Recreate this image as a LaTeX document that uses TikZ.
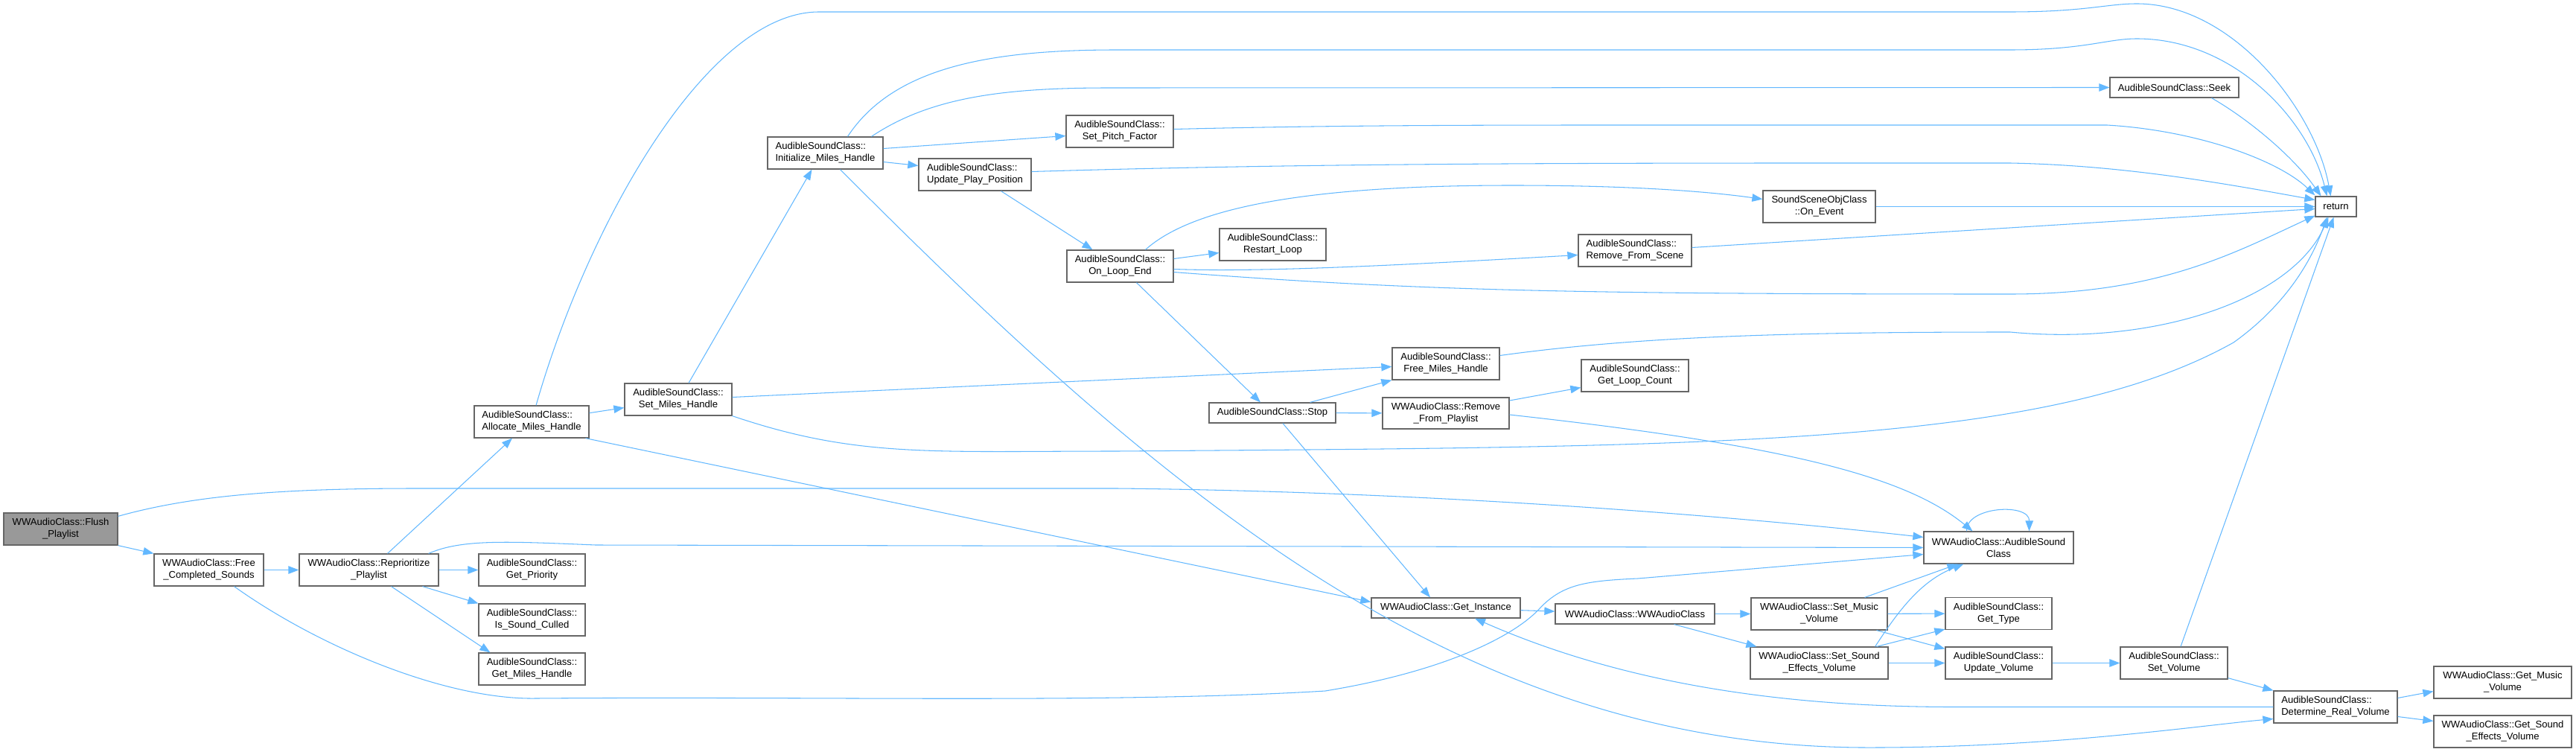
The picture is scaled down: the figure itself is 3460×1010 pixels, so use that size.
\documentclass[tikz,border=0pt]{standalone}
\usepackage{fontspec}
\setmainfont{Liberation Sans}
\usepackage{xcolor}
\usepackage{tikz}
\usetikzlibrary{arrows.meta, calc}

\definecolor{edgeblue}{HTML}{63B8FF}
\definecolor{boxgray}{HTML}{666666}
\definecolor{rootgray}{HTML}{999999}
\newcommand\fnfont{\fontsize{7.45}{9.1}\selectfont}

\begin{document}
\begin{tikzpicture}[x=0.02cm, y=-0.02cm,
    >={Triangle[length=8pt, width=6pt]},
    fn/.style={draw=boxgray, fill=white, line width=0.7pt, align=center,
               inner sep=0pt, minimum height=8.6mm, font=\fnfont},
    fnone/.style={fn, minimum height=5.4mm},
    fnroot/.style={fn, fill=rootgray},
    call/.style={->, draw=edgeblue, line width=0.6pt}]
    \useasboundingbox (0,0) rectangle (3460,1010);
    \node[fnroot, minimum width=3.06cm] (flush) at (81.5,710.5) {WWAudioClass::Flush\\\_Playlist};
    \node[fn, minimum width=2.94cm] (freecs) at (280.5,765.5) {WWAudioClass::Free\\\_Completed\_Sounds};
    \node[fn, minimum width=3.74cm] (reprio) at (495.5,765.5) {WWAudioClass::Reprioritize\\\_Playlist};
    \node[fn, minimum width=2.86cm] (getprio) at (714.5,765.5) {AudibleSoundClass::\\Get\_Priority};
    \node[fn, minimum width=2.86cm] (culled) at (714.5,832.5) {AudibleSoundClass::\\Is\_Sound\_Culled};
    \node[fn, minimum width=2.86cm] (getmh) at (714.5,898.5) {AudibleSoundClass::\\Get\_Miles\_Handle};
    \node[fn, align=left, minimum width=3.08cm] (alloc) at (714,566.5) {AudibleSoundClass::\\Allocate\_Miles\_Handle};
    \node[fn, minimum width=2.88cm] (setmh) at (911,536.5) {AudibleSoundClass::\\Set\_Miles\_Handle};
    \node[fn, align=left, minimum width=3.10cm] (initmh) at (1108.5,205.5) {AudibleSoundClass::\\Initialize\_Miles\_Handle};
    \node[fn, align=left, minimum width=3.02cm] (updpp) at (1309.5,234.5) {AudibleSoundClass::\\Update\_Play\_Position};
    \node[fn, minimum width=2.88cm] (pitch) at (1504,176.5) {AudibleSoundClass::\\Set\_Pitch\_Factor};
    \node[fn, minimum width=2.86cm] (loopend) at (1504.5,357.5) {AudibleSoundClass::\\On\_Loop\_End};
    \node[fn, minimum width=2.86cm] (restart) at (1709.5,328.5) {AudibleSoundClass::\\Restart\_Loop};
    \node[fnone, minimum width=3.40cm] (stop) at (1709,554.5) {AudibleSoundClass::Stop};
    \node[fn, minimum width=2.88cm] (freemh) at (1942,488.5) {AudibleSoundClass::\\Free\_Miles\_Handle};
    \node[fn, minimum width=3.40cm, minimum height=8.4mm] (rmpl) at (1942,555) {WWAudioClass::Remove\\\_From\_Playlist};
    \node[fnone, minimum width=4.00cm] (getinst) at (1942,816.5) {WWAudioClass::Get\_Instance};
    \node[fn, align=left, minimum width=3.04cm] (rmscene) at (2196,336.5) {AudibleSoundClass::\\Remove\_From\_Scene};
    \node[fn, minimum width=2.88cm] (loopcnt) at (2196,504.5) {AudibleSoundClass::\\Get\_Loop\_Count};
    \node[fnone, minimum width=4.28cm] (ctor) at (2196,824.5) {WWAudioClass::WWAudioClass};
    \node[fn, minimum width=3.02cm] (onevent) at (2443.5,277.5) {SoundSceneObjClass\\::On\_Event};
    \node[fn, minimum width=3.66cm] (setmusic) at (2443.5,824.5) {WWAudioClass::Set\_Music\\\_Volume};
    \node[fn, minimum width=3.70cm] (setsfx) at (2443.5,890.5) {WWAudioClass::Set\_Sound\\\_Effects\_Volume};
    \node[fn, minimum width=4.02cm] (asc) at (2684.5,735.5) {WWAudioClass::AudibleSound\\Class};
    \node[fn, minimum width=2.86cm] (gettype) at (2684.5,824) {AudibleSoundClass::\\Get\_Type};
    \node[fn, minimum width=2.86cm] (updvol) at (2684.5,890.5) {AudibleSoundClass::\\Update\_Volume};
    \node[fnone, minimum width=3.46cm] (seek) at (2920.5,117.5) {AudibleSoundClass::Seek};
    \node[fn, minimum width=2.88cm] (setvol) at (2920,890.5) {AudibleSoundClass::\\Set\_Volume};
    \node[fnone, minimum width=1.10cm] (ret) at (3137.5,277.5) {return};
    \node[fn, align=left, minimum width=3.32cm] (detvol) at (3137,949.5) {AudibleSoundClass::\\Determine\_Real\_Volume};
    \node[fn, minimum width=3.70cm] (getmvol) at (3361.5,916.5) {WWAudioClass::Get\_Music\\\_Volume};
    \node[fn, minimum width=3.70cm] (getsvol) at (3361.5,982.5) {WWAudioClass::Get\_Sound\\\_Effects\_Volume};

    \draw[call] (flush.south east) -- (freecs.north west);
    \draw[call] ($(flush.north east)+(0,5)$) .. controls (260,665) and (380,656) .. (560,656)
        -- (1500,656) .. controls (1900,660) and (2300,690) .. ($(asc.west)+(0,-14)$);
    \draw[call] (freecs) -- (reprio);
    \draw[call] ($(freecs.south)+(34,0)$) .. controls (430,870) and (600,940) .. (720,938)
        .. controls (1100,935) and (1500,945) .. (1780,928)
        .. controls (1950,900) and (2040,850) .. (2070,815)
        .. controls (2100,785) and (2130,780) .. (2200,777) -- ($(asc.west)+(0,9)$);
    \draw[call] (reprio) -- (getprio);
    \draw[call] ($(reprio.south east)+(-22,0)$) -- (culled.north west);
    \draw[call] ($(reprio.south)+(30,0)$) -- ($(getmh.north west)+(16,0)$);
    \draw[call] ($(reprio.north)+(25,0)$) -- ($(alloc.south)+(-26,0)$);
    \draw[call] ($(reprio.north east)+(-14,0)$) .. controls (620,724) and (680,727) .. (800,732) -- (asc.west);
    \draw[call] (alloc) -- (setmh);
    \draw[call] ($(alloc.north)+(6,0)$) .. controls (790,300) and (950,16) .. (1100,16)
        -- (2700,16) .. controls (2800,16) and (2830,5) .. (2870,5)
        .. controls (3000,5) and (3110,150) .. ($(ret.north)+(-7,0)$);
    \draw[call] ($(alloc.south east)+(-5,0)$) -- ($(getinst.west)+(0,-8)$);
    \draw[call] ($(setmh.north)+(14,0)$) -- ($(initmh.south)+(-18,0)$);
    \draw[call] ($(setmh.east)+(0,-3)$) -- ($(freemh.west)+(0,4)$);
    \draw[call] (setmh.south east) .. controls (1150,615) and (1250,606) .. (1500,606)
        .. controls (2300,600) and (2750,600) .. (3000,460)
        .. controls (3070,410) and (3105,350) .. ($(ret.south)+(-12,0)$);
    \draw[call] ($(initmh.east)+(0,-6)$) -- ($(pitch.west)+(0,6)$);
    \draw[call] ($(initmh.east)+(0,12)$) -- ($(updpp.west)+(0,-12)$);
    \draw[call] ($(initmh.north)+(30,0)$) .. controls (1200,90) and (1330,67) .. (1500,67)
        -- (2700,67) .. controls (2800,67) and (2830,52) .. (2870,52)
        .. controls (3000,52) and (3100,160) .. ($(ret.north)+(-12,0)$);
    \draw[call] ($(initmh.north)+(62,0)$) .. controls (1250,130) and (1350,118) .. (1490,118) -- (seek.west);
    \draw[call] ($(initmh.south)+(20,0)$) .. controls (1550,650) and (1950,1000) .. (2500,1004)
        .. controls (2750,1005) and (2950,975) .. ($(detvol.west)+(0,16)$);
    \draw[call] ($(updpp.east)+(0,-4)$) .. controls (1800,218) and (2200,219) .. (2700,219)
        .. controls (2850,222) and (2980,245) .. ($(ret.west)+(0,-9)$);
    \draw[call] ($(updpp.south)+(35,0)$) -- ($(loopend.north)+(-37,0)$);
    \draw[call] ($(pitch.east)+(0,-3)$) .. controls (1800,168) and (2000,168) .. (2200,168)
        -- (2830,168) .. controls (2950,175) and (3060,215) .. ($(ret.north west)+(0,-1)$);
    \draw[call] ($(loopend.east)+(0,-10)$) -- ($(restart.west)+(0,11)$);
    \draw[call] ($(loopend.north)+(34,0)$) .. controls (1600,280) and (1750,249) .. (2031,249)
        .. controls (2200,249) and (2300,258) .. ($(onevent.west)+(0,-10)$);
    \draw[call] ($(loopend.east)+(0,4)$) .. controls (1700,366) and (1900,355) .. ($(rmscene.west)+(0,6)$);
    \draw[call] ($(loopend.east)+(0,8)$) .. controls (1900,390) and (2100,395) .. (2700,395)
        .. controls (2900,395) and (3000,340) .. ($(ret.south west)+(0,-2)$);
    \draw[call] ($(loopend.south)+(22,0)$) -- ($(stop.north)+(-16,0)$);
    \draw[call] ($(rmscene.east)+(0,-4)$) -- ($(ret.west)+(0,3)$);
    \draw[call] (onevent) -- (ret);
    \draw[call] ($(seek.south)+(50,0)$) .. controls (3020,160) and (3080,210) .. ($(ret.north)+(-20,0)$);
    \draw[call] ($(stop.north east)+(-35,0)$) -- (freemh.south west);
    \draw[call] (stop) -- (rmpl);
    \draw[call] ($(stop.south)+(14,0)$) -- ($(getinst.north)+(-21,0)$);
    \draw[call] ($(freemh.east)+(0,-11)$) .. controls (2200,452) and (2400,446) .. (2700,446)
        .. controls (2900,465) and (3080,400) .. ($(ret.south)+(-10,0)$);
    \draw[call] ($(rmpl.east)+(0,-17)$) -- ($(loopcnt.west)+(0,16)$);
    \draw[call] ($(rmpl.east)+(0,2)$) .. controls (2400,598) and (2560,640) .. ($(asc.north)+(-35,0)$);
    \draw[call] (getinst) -- (ctor);
    \draw[call] (ctor) -- (setmusic);
    \draw[call] ($(ctor.south east)+(-55,0)$) -- ($(setsfx.north west)+(9,0)$);
    \draw[call] ($(setmusic.north east)+(-31,0)$) -- ($(asc.south west)+(46,0)$);
    \draw[call] (setmusic) -- (gettype);
    \draw[call] ($(setmusic.south east)+(-15,0)$) -- ($(updvol.north west)+(0,3)$);
    \draw[call] ($(setsfx.north east)+(-16,0)$) -- ($(gettype.south west)+(0,-1)$);
    \draw[call] (setsfx) -- (updvol);
    \draw[call] ($(setsfx.north east)+(-18,0)$) .. controls (2550,820) and (2580,780) .. ($(asc.south west)+(54,0)$);
    \draw[call] ($(asc.north)+(-43,0)$) .. controls (2640,680) and (2726,675) .. ($(asc.north)+(41,0)$);
    \draw[call] (updvol) -- (setvol);
    \draw[call] ($(setvol.north)+(9,0)$) -- ($(ret.south)+(-3,0)$);
    \draw[call] ($(setvol.south east)+(0,-2)$) -- (detvol.north west);
    \draw[call] ($(detvol.east)+(0,-12)$) -- ($(getmvol.west)+(0,12)$);
    \draw[call] ($(detvol.east)+(0,13)$) -- ($(getsvol.west)+(0,-14)$);
    \draw[call] (detvol.west) -- (2620,949.5) .. controls (2350,949) and (2150,905) .. ($(getinst.south)+(39,0)$);
\end{tikzpicture}
\end{document}
